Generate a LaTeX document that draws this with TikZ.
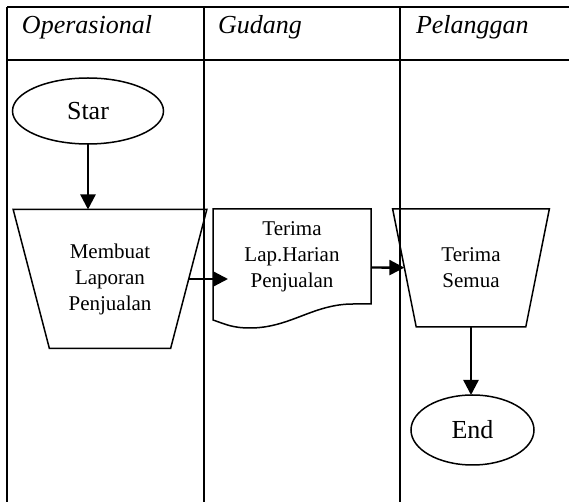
\documentclass[tikz,border=0pt]{standalone}
\usepackage{fontspec}
\setmainfont{Liberation Serif}
\usetikzlibrary{shapes.geometric,arrows.meta}

\begin{document}
\begin{tikzpicture}[x=0.5pt,y=-0.5pt,>={Triangle[length=7.5pt,width=7.5pt]}]
\tikzstyle{every node}=[font=\fontsize{10.5}{13}\selectfont, inner sep=0pt, outer sep=0pt]
\tikzstyle{lane}=[line width=1pt]
\tikzstyle{terminal}=[draw, ellipse, line width=0.75pt, font=\fontsize{13}{15}\selectfont]
\tikzstyle{manual}=[draw, trapezium, trapezium stretches=true, line width=0.75pt, align=center]
\tikzstyle{flow}=[->, line width=1.2pt]
\useasboundingbox (0,0) rectangle (569,502);

% Lanes
\draw[lane] (7,7) -- (569,7);
\draw[lane] (7,60) -- (569,60);
\foreach \x in {7,204,400}
  \draw[lane] (\x,7) -- (\x,502);
\foreach \x/\name/\lab in {22/op/Operasional, 218/gd/Gudang, 416/pl/Pelanggan}
  \node[anchor=base west, font=\fontsize{13}{15}\selectfont\itshape] (\name) at (\x,34) {\lab};

% Operasional
\node[terminal, minimum width=75.5pt, minimum height=33pt] (star) at (88,111) {Star};
\node[manual, trapezium angle=109.2, minimum width=97pt, minimum height=69.5pt] (lap) at (110,279) {Membuat\\Laporan\\Penjualan};
\draw[flow] (star) -- (star |- lap.north);

% Gudang
\node[minimum width=79pt, minimum height=47.5pt, align=center] (doc) at (292,256.5) {Terima\\Lap.Harian\\Penjualan};
\draw[line width=0.75pt] (doc.south west) -- (doc.north west) -- (doc.north east) -- (doc.south east)
  -- ([shift={(-18,0)}]doc.south east) .. controls +(-40,0) and +(40,0) .. ([shift={(37,24)}]doc.south west)
  .. controls +(-18,0) and +(12,4) .. ([shift={(0,16)}]doc.south west) -- cycle;
\draw[flow] (lap.east) -- ([xshift=7.5pt]lap.east -| doc.west);

% Pelanggan
\node[manual, trapezium angle=107.6, minimum width=78.5pt, minimum height=59pt] (trm) at (471,268) {Terima\\Semua};
\node[terminal, minimum width=61.5pt, minimum height=35pt] (end) at (472.5,430) {End};
\draw[flow] ([yshift=-5.5pt]doc.east) -- (trm);
\draw[flow] (trm.south) -- (trm.south |- end.north);
\end{tikzpicture}
\end{document}
